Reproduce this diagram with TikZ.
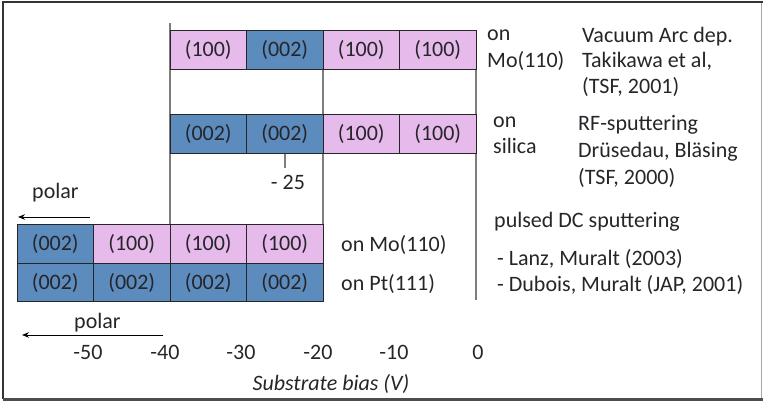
\documentclass[tikz,border=0pt]{standalone}
\usepackage{fontspec}
\setmainfont{Carlito}
\usetikzlibrary{arrows.meta}
\definecolor{pinkcell}{RGB}{230,186,234}
\definecolor{bluecell}{RGB}{92,139,190}
\definecolor{txt}{RGB}{38,38,42}
\definecolor{guide}{RGB}{125,125,125}
\tikzset{
  cell/.style={draw=black!85, line width=0.8pt, minimum width=76.5pt,
    minimum height=38.5pt, inner sep=0pt, text=txt,
    font=\fontsize{22}{26}\selectfont},
  pk/.style={cell, fill=pinkcell},
  bl/.style={cell, fill=bluecell},
  lbl/.style={anchor=base west, inner sep=0pt, text=txt,
    font=\fontsize{22}{26}\selectfont},
  axlbl/.style={anchor=base, inner sep=0pt, text=txt,
    font=\fontsize{22}{26}\selectfont},
  guideline/.style={draw=guide, line width=1.4pt},
  polararrow/.style={draw=black, line width=0.9pt,
    -{Stealth[length=7pt,width=5.5pt]}}
}
\begin{document}
\begin{tikzpicture}[x=1pt,y=-1pt]
\useasboundingbox (0,0) rectangle (763,402);
% frame
\draw[draw=black!35, line width=1pt] (761,2) -- (761,399);
\draw[draw=black!80, line width=2pt] (3,399) -- (3,2) -- (763,2);
\draw[draw=black!70, line width=2.5pt] (3,399.5) -- (763,399.5);

% guide lines at -40, -20 and 0 V
\coordinate (g1a) at (170,23);  \coordinate (g1b) at (170,225);
\coordinate (g2a) at (323,31);  \coordinate (g2b) at (323,225);
\coordinate (g3a) at (476,31);  \coordinate (g3b) at (476,300);
\draw[guideline] (g1a) -- (g1b);
\draw[guideline] (g2a) -- (g2b);
\draw[guideline] (g3a) -- (g3b);
% tick at -25 V
\coordinate (t25a) at (285,153); \coordinate (t25b) at (285,168);
\draw[guideline] (t25a) -- (t25b);
\node[axlbl] (m25) at (288,189) {- 25};

% vacuum arc on Mo(110)
\node[pk] (r1c1) at (208.25,50) {(100)};
\node[bl] (r1c2) at (284.75,50) {(002)};
\node[pk] (r1c3) at (361.25,50) {(100)};
\node[pk] (r1c4) at (437.75,50) {(100)};

% RF sputtering on silica
\node[bl] (r2c1) at (208.25,134) {(002)};
\node[bl] (r2c2) at (284.75,134) {(002)};
\node[pk] (r2c3) at (361.25,134) {(100)};
\node[pk] (r2c4) at (437.75,134) {(100)};

% pulsed DC on Mo(110)
\node[bl] (r3c1) at (55.25,244) {(002)};
\node[pk] (r3c2) at (131.75,244) {(100)};
\node[pk] (r3c3) at (208.25,244) {(100)};
\node[pk] (r3c4) at (284.75,244) {(100)};

% pulsed DC on Pt(111)
\node[bl] (r4c1) at (55.25,282.5) {(002)};
\node[bl] (r4c2) at (131.75,282.5) {(002)};
\node[bl] (r4c3) at (208.25,282.5) {(002)};
\node[bl] (r4c4) at (284.75,282.5) {(002)};

% substrate labels
\node[lbl] (on1) at (487,40) {on};
\node[lbl] (mo1) at (487,67) {Mo(110)};
\node[lbl] (on2) at (493,127) {on};
\node[lbl] (sil) at (493,153) {silica};
\node[lbl] (mo3) at (341,251) {on Mo(110)};
\node[lbl] (pt4) at (341,290) {on Pt(111)};

% references
\node[lbl] (va1) at (582,42) {Vacuum Arc dep.};
\node[lbl] (va2) at (582,67.5) {Takikawa et al,};
\node[lbl] (va3) at (582,93) {(TSF, 2001)};
\node[lbl] (rf1) at (578,130) {RF-sputtering};
\node[lbl] (rf2) at (578,157) {Drüsedau, Bläsing};
\node[lbl] (rf3) at (578,184) {(TSF, 2000)};
\node[lbl] (dc1) at (494,227) {pulsed DC sputtering};
\node[lbl] (dc2) at (497,265) {- Lanz, Muralt (2003)};
\node[lbl] (dc3) at (497,291) {- Dubois, Muralt (JAP, 2001)};

% polar arrows
\node[lbl] (pol1) at (32,198) {polar};
\coordinate (p1s) at (90,217); \coordinate (p1e) at (18,217);
\draw[polararrow] (p1s) -- (p1e);
\node[lbl] (pol2) at (74,328) {polar};
\coordinate (p2s) at (163,335); \coordinate (p2e) at (22,335);
\draw[polararrow] (p2s) -- (p2e);

% bias axis
\node[axlbl] (x50) at (88,359) {-50};
\node[axlbl] (x40) at (165,359) {-40};
\node[axlbl] (x30) at (241,359) {-30};
\node[axlbl] (x20) at (318,359) {-20};
\node[axlbl] (x10) at (394,359) {-10};
\node[axlbl] (x0)  at (478,359) {0};
\node[axlbl, font=\fontsize{22}{26}\selectfont\itshape] (xlab) at (331,390) {Substrate bias (V)};
\end{tikzpicture}
\end{document}
